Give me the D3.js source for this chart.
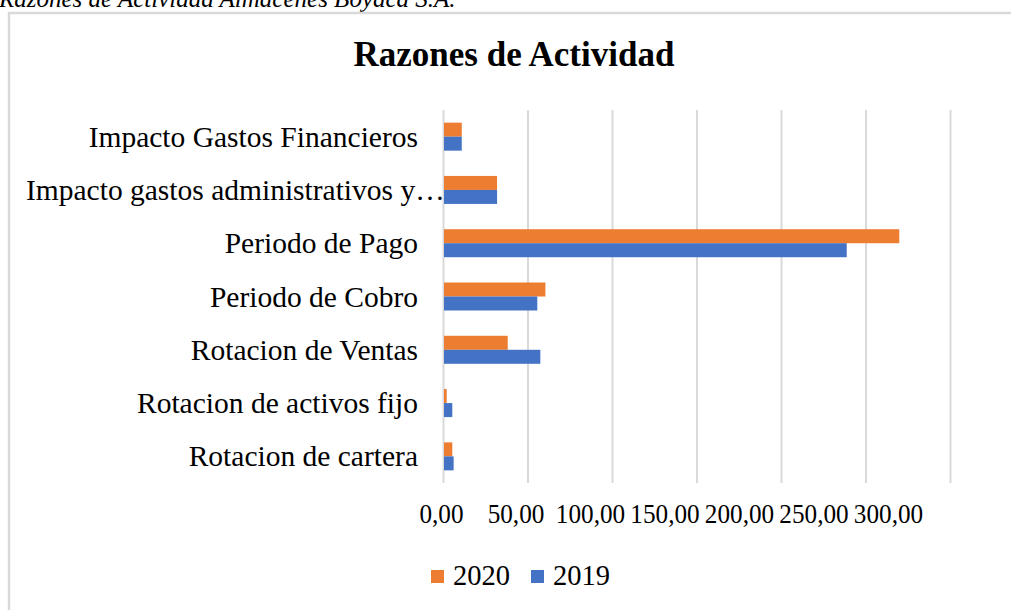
<!DOCTYPE html>
<html><head><meta charset="utf-8">
<script src="https://cdn.jsdelivr.net/npm/d3@7"></script>
<style>
body{margin:0;background:#fff;overflow:hidden}
svg{display:block}
text{font-family:"Liberation Serif","Times New Roman",serif;fill:#000}
</style></head>
<body>
<svg id="c" width="1011" height="610"></svg>
<script>
const categories = ["Impacto Gastos Financieros","Impacto gastos administrativos y…","Periodo de Pago","Periodo de Cobro","Rotacion de Ventas","Rotacion de activos fijo","Rotacion de cartera"];
const values2020 = [10.8, 31.7, 269.7, 60.3, 38.0, 1.9, 5.2];
const values2019 = [10.8, 31.7, 238.6, 55.5, 57.3, 5.2, 6.0];
const seriesNames = ["2020","2019"];
const tickValues = [0,50,100,150,200,250,300];
const colors = {"2020":"#ED7D31","2019":"#4472C4"};

const svg = d3.select("#c");

// caption, cut at top as in the reference
svg.append("text").attr("x",-1).attr("y",7).attr("font-size",25).attr("font-style","italic")
  .text("Razones de Actividad Almacenes Boyacá S.A.");

// chart border
svg.append("rect").attr("x",9).attr("y",13).attr("width",1040).attr("height",640)
  .attr("fill","none").attr("stroke","#d9d9d9").attr("stroke-width",2.5);

// title
svg.append("text").attr("x",514).attr("y",66).attr("text-anchor","middle")
  .attr("font-size",35).attr("font-weight","bold").text("Razones de Actividad");

const x = d3.scaleLinear().domain([0,300]).range([443.5,950.5]);
const xLabel = d3.scaleLinear().domain([0,300]).range([441,888]);
const y = d3.scaleBand().domain(categories).range([110,483]);
const ySub = d3.scaleBand().domain(seriesNames).range([y.bandwidth()/2-14, y.bandwidth()/2+14]);

// gridlines
svg.append("g").selectAll("line").data(tickValues).join("line")
  .attr("x1",d=>x(d)).attr("x2",d=>x(d)).attr("y1",110).attr("y2",483)
  .attr("stroke","#d9d9d9").attr("stroke-width",2);

// bars
const data = categories.map((c,i)=>({c, v:{"2020":values2020[i],"2019":values2019[i]}}));
const g = svg.append("g").selectAll("g").data(data).join("g")
  .attr("transform",d=>`translate(0,${y(d.c)})`);
g.selectAll("rect").data(d=>seriesNames.map(s=>({s,v:d.v[s]}))).join("rect")
  .attr("x",x(0)+0.5).attr("y",d=>ySub(d.s)).attr("height",ySub.bandwidth())
  .attr("width",d=>x(d.v)-x(0)-0.5).attr("fill",d=>colors[d.s]);

// category labels
const labelRight = 418, labelLeft = 26;
svg.append("g").selectAll("text").data(categories).join("text")
  .attr("font-size",29.5).attr("dominant-baseline","central")
  .attr("y",d=>y(d)+y.bandwidth()/2)
  .text(d=>d)
  .each(function(){
    const w = this.getComputedTextLength();
    const sel = d3.select(this);
    if (labelRight - w < labelLeft) sel.attr("x",labelLeft).attr("text-anchor","start");
    else sel.attr("x",labelRight).attr("text-anchor","end");
  });

// x axis labels
const fmt = d3.format(".2f");
const axis = d3.axisBottom(xLabel).tickValues(tickValues).tickSize(0).tickPadding(0)
  .tickFormat(d=>fmt(d).replace(".",","));
const ax = svg.append("g").attr("transform","translate(0,503)").call(axis);
ax.select(".domain").remove();
ax.selectAll("text").attr("font-size",28).attr("fill","#000")
  .attr("dy","0.71em").attr("transform","scale(0.9,1)");

// legend
const legend = svg.append("g");
const legItems = [{s:"2020",x:431},{s:"2019",x:531}];
legend.selectAll("rect").data(legItems).join("rect")
  .attr("x",d=>d.x).attr("y",570).attr("width",13).attr("height",13).attr("fill",d=>colors[d.s]);
legend.selectAll("text").data(legItems).join("text")
  .attr("x",d=>d.x+22).attr("y",585).attr("font-size",28.5).text(d=>d.s);
</script>
</body></html>
